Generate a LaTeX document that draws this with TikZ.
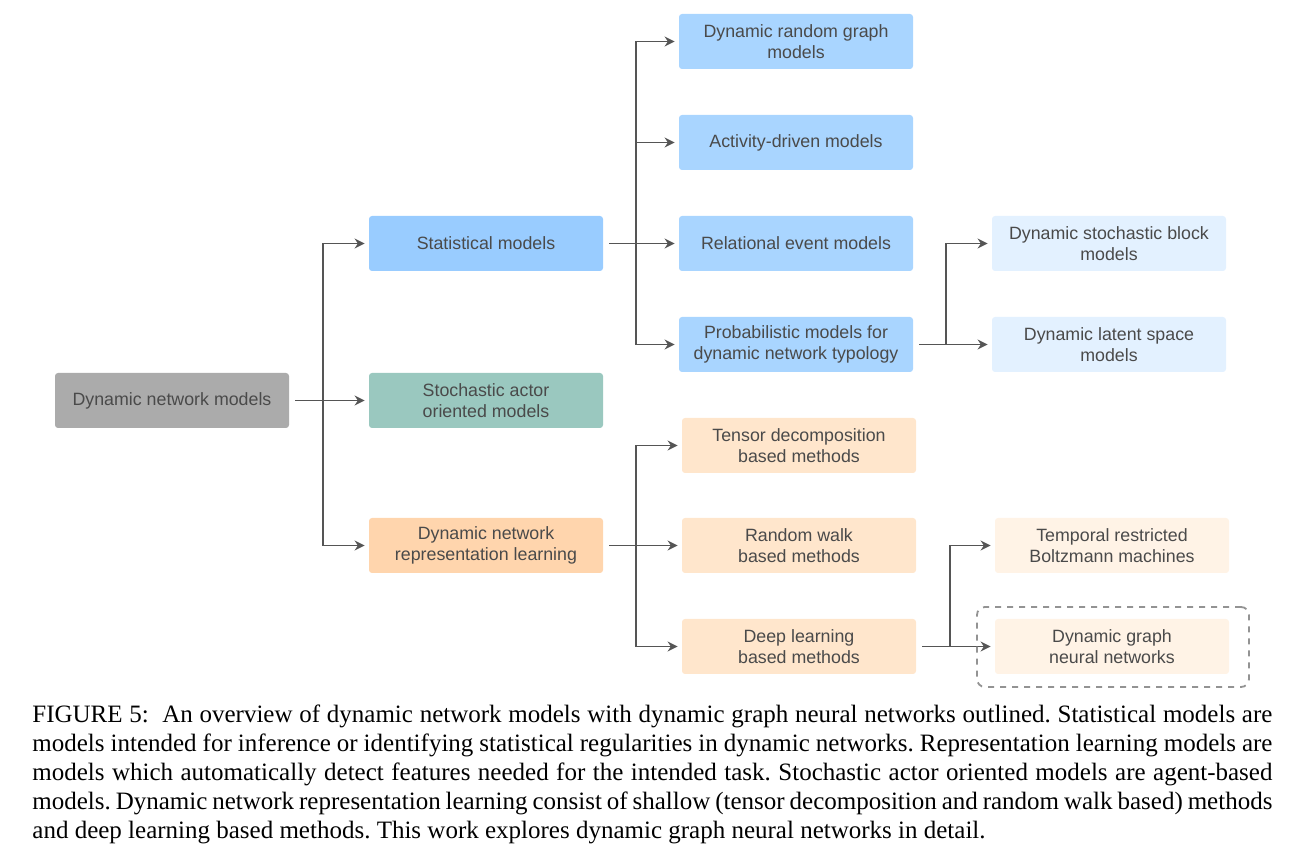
\documentclass[tikz,border=0pt]{standalone}
\usepackage{fontspec}
\setmainfont{Liberation Serif}
\newfontfamily\boxfont{Liberation Sans}
\usetikzlibrary{arrows.meta}
\pgfdeclarelayer{bg}
\pgfsetlayers{bg,main}
\definecolor{rootgray}{HTML}{ABABAB}
\definecolor{statblue}{HTML}{99CCFF}
\definecolor{midblue}{HTML}{A9D5FF}
\definecolor{leafblue}{HTML}{E3F1FF}
\definecolor{saomteal}{HTML}{9AC8BF}
\definecolor{reporange}{HTML}{FFD5AD}
\definecolor{midorange}{HTML}{FFE6CC}
\definecolor{leaforange}{HTML}{FFF3E6}
\definecolor{boxtext}{HTML}{4A4A4A}
\definecolor{linkgray}{HTML}{555555}
\tikzset{
        modelbox/.style={rectangle, rounded corners=1.5pt, minimum width=117pt,
                minimum height=27.5pt, align=center, inner sep=1pt, text=boxtext,
                font=\boxfont\fontsize{8.9}{10.6}\selectfont},
        wire/.style={draw=linkgray, line width=0.75pt, shorten <=3pt},
        link/.style={draw=linkgray, line width=0.75pt, -{Stealth[length=5pt,width=5pt]},
                shorten >=2pt},
        outline/.style={draw=gray!85, dashed, line width=0.9pt, rounded corners=4pt,
                minimum width=136pt, minimum height=40pt}
}

\begin{document}
\begin{tikzpicture}[x=0.5pt, y=-0.5pt]
        \useasboundingbox (0,0) rectangle (1303,854);
        \node (v0) [modelbox, fill=rootgray] at (172, 400.5) {Dynamic network models};
        \node (v1) [modelbox, fill=statblue] at (486, 243.5) {Statistical models};
        \node (v2) [modelbox, fill=saomteal] at (486, 400.5) {Stochastic actor\\oriented models};
        \node (v3) [modelbox, fill=reporange] at (486, 545.5) {Dynamic network\\representation learning};
        \node (v4) [modelbox, fill=midblue] at (796, 41.5) {Dynamic random graph\\models};
        \node (v5) [modelbox, fill=midblue] at (796, 142.5) {Activity-driven models};
        \node (v6) [modelbox, fill=midblue] at (796, 243.5) {Relational event models};
        \node (v7) [modelbox, fill=midblue] at (796, 344.5) {Probabilistic models for\\dynamic network typology};
        \node (v8) [modelbox, fill=leafblue] at (1109, 243.5) {Dynamic stochastic block\\models};
        \node (v9) [modelbox, fill=leafblue] at (1109, 344.5) {Dynamic latent space\\models};
        \node (v10) [modelbox, fill=midorange] at (799, 445.5) {Tensor decomposition\\based methods};
        \node (v11) [modelbox, fill=midorange] at (799, 545.5) {Random walk\\based methods};
        \node (v12) [modelbox, fill=midorange] at (799, 646.5) {Deep learning\\based methods};
        \node (v13) [modelbox, fill=leaforange] at (1112, 545.5) {Temporal restricted\\Boltzmann machines};
        \node (v14) [modelbox, fill=leaforange] at (1112, 646.5) {Dynamic graph\\neural networks};
        \node (v15) [outline] at (1113, 647) {};
        % junctions of the elbow connectors
        \coordinate (j0) at (323, 400.5);
        \coordinate (j1) at (636, 243.5);
        \coordinate (j2) at (946, 344.5);
        \coordinate (j3) at (636, 545.5);
        \coordinate (j4) at (950, 646.5);
        \begin{pgfonlayer}{bg}
                \draw [wire] (v0) -- (j0);
                \draw [link] (j0) |- (v1);
                \draw [link] (j0) -- (v2);
                \draw [link] (j0) |- (v3);
                \draw [wire] (v1) -- (j1);
                \draw [link] (j1) |- (v4);
                \draw [link] (j1) |- (v5);
                \draw [link] (j1) -- (v6);
                \draw [link] (j1) |- (v7);
                \draw [wire] (v7) -- (j2);
                \draw [link] (j2) |- (v8);
                \draw [link] (j2) -- (v9);
                \draw [wire] (v3) -- (j3);
                \draw [link] (j3) |- (v10);
                \draw [link] (j3) -- (v11);
                \draw [link] (j3) |- (v12);
                \draw [wire] (v12) -- (j4);
                \draw [link] (j4) |- (v13);
                \draw [link] (j4) -- (v14);
        \end{pgfonlayer}
        \node (cap) [anchor=north west, inner sep=0pt, text width=620pt, align=justify,
                font=\frenchspacing\fontsize{12.5}{14.5}\selectfont] at (32, 705)
                {FIGURE 5:\ \ An overview of dynamic network models with dynamic graph neural networks outlined. Statistical models are\linebreak
                models intended for inference or identifying statistical regularities in dynamic networks. Representation learning models are\linebreak
                models which automatically detect features needed for the intended task. Stochastic actor oriented models are agent-based\linebreak
                models. Dynamic network representation learning consist of shallow (tensor decomposition and random walk based) methods\linebreak
                and deep learning based methods. This work explores dynamic graph neural networks in detail.};
\end{tikzpicture}
\end{document}
